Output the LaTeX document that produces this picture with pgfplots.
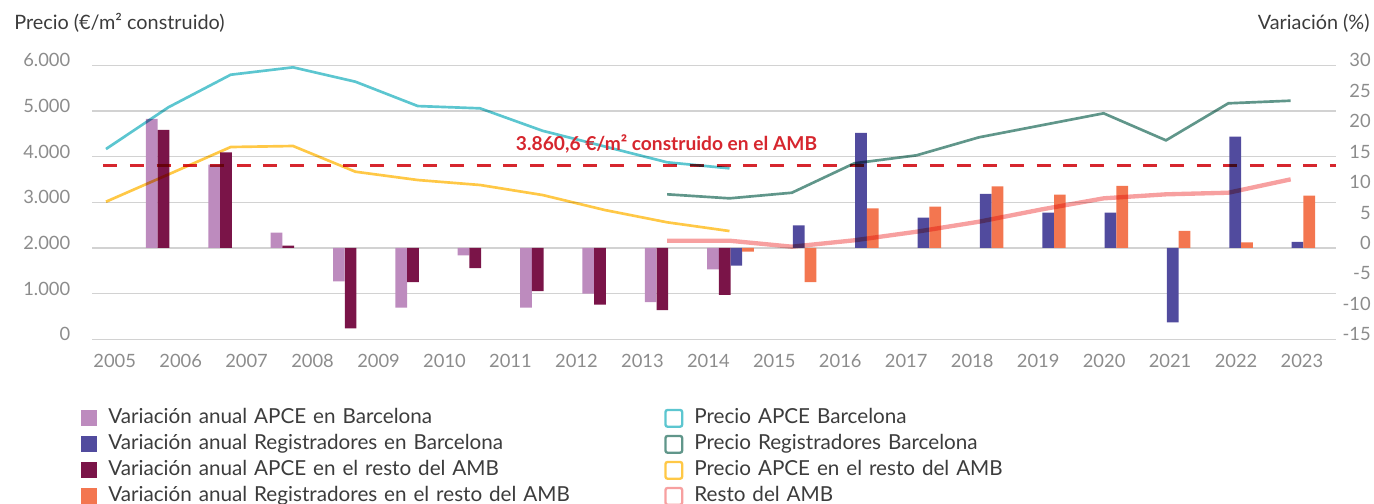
\documentclass[border=0pt]{standalone}
\usepackage{fontspec}
\setmainfont{Lato}
\usepackage{pgfplots}
\pgfplotsset{compat=1.18}

\definecolor{cLila}{HTML}{BD8BBE}
\definecolor{cIndigo}{HTML}{514B9E}
\definecolor{cMaroon}{HTML}{7A1448}
\definecolor{cOrange}{HTML}{F37650}
\definecolor{cCyan}{HTML}{5CC6D0}
\definecolor{cGreen}{HTML}{60968A}
\definecolor{cYellow}{HTML}{FFC846}
\definecolor{cPink}{HTML}{F7A0A0}
\definecolor{cRed}{HTML}{D6262E}
\definecolor{gridgray}{RGB}{210,210,210}
\definecolor{tickgray}{RGB}{140,140,140}
\definecolor{textdark}{RGB}{60,60,60}

\newcommand\tickfont{\fontsize{11}{12}\selectfont}

% shared frame: line points sit at x = 0..19, bars of year k at x = k+1 with shifts
\pgfplotsset{frame/.style={
  at={(55.2pt,-203.58pt)}, anchor=south west,
  width=746.4pt, height=164.4pt, scale only axis,
  xmin=-0.2245, xmax=19.727,
  axis line style={draw=none}, major tick length=0pt,
}}

\begin{document}
\begin{tikzpicture}
\path[use as bounding box] (0pt,0pt) rectangle (824.4pt,-302.4pt);

% variations (%), right axis, bars
\begin{axis}[frame,
  ymin=-15, ymax=30,
  xtick={0.140,1.198,2.255,3.313,4.371,5.429,6.487,7.545,8.603,9.661,10.718,11.776,12.834,13.892,14.950,16.008,17.066,18.124,19.181},
  xticklabels={2005,2006,2007,2008,2009,2010,2011,2012,2013,2014,2015,2016,2017,2018,2019,2020,2021,2022,2023},
  xticklabel style={anchor=base, yshift=-17.2pt, font=\tickfont, text=tickgray},
  ytick={-15,-10,...,30},
  yticklabels={-15,-10,-5,0,5,10,15,20,25,30},
  ytick pos=right, yticklabel pos=right,
  yticklabel style={anchor=east, xshift=21pt, yshift=3pt, inner sep=0pt, font=\tickfont, text=tickgray},
  extra y ticks={-15,-7.5,0,7.5,15,22.5,30}, extra y tick labels={},
  extra y tick style={grid=major, major grid style={gridgray, line width=0.7pt}},
  bar width=0.1877,
]
\addplot[ybar, bar shift=-0.265, fill=cLila, draw=none] coordinates {
 (1,21.2) (2,13.7) (3,2.5) (4,-5.5) (5,-9.8) (6,-1.2) (7,-9.8) (8,-7.5) (9,-8.9) (10,-3.5)};
\addplot[ybar, bar shift=-0.077, fill=cMaroon, draw=none] coordinates {
 (1,19.4) (2,15.7) (3,0.4) (4,-13.2) (5,-5.6) (6,-3.3) (7,-7.1) (8,-9.3) (9,-10.2) (10,-7.7)};
\addplot[ybar, bar shift=0.110, fill=cIndigo, draw=none] coordinates {
 (10,-2.9) (11,3.7) (12,18.9) (13,5.0) (14,8.9) (15,5.8) (16,5.8) (17,-12.2) (18,18.3) (19,1.0)};
\addplot[ybar, bar shift=0.298, fill=cOrange, draw=none] coordinates {
 (10,-0.6) (11,-5.6) (12,6.5) (13,6.8) (14,10.1) (15,8.75) (16,10.2) (17,2.8) (18,0.9) (19,8.6)};
\end{axis}

% prices, left axis, lines
\begin{axis}[frame,
  ymin=0, ymax=6000,
  xtick=\empty,
  ytick={0,1000,...,6000},
  yticklabels={0,1.000,2.000,3.000,4.000,5.000,6.000},
  yticklabel style={anchor=east, xshift=-12.9pt, yshift=3pt, inner sep=0pt, font=\tickfont, text=tickgray},
  legend columns=2,
  legend cell align=left,
  legend style={at={(-0.00884,-0.2398)}, anchor=north west, draw=none, fill=none,
    inner sep=0pt, row sep=0pt, font=\fontsize{12.4}{14}\selectfont, text=textdark,
    nodes={text width=327pt, align=left, inner xsep=6.6pt, inner ysep=2.2pt,
           text height=8.6pt, text depth=2.6pt}},
]
\addlegendimage{fill=cLila, draw=none, legend image code/.code={\fill (0pt,-4.8pt) rectangle (9.6pt,4.8pt);}}
\addlegendimage{draw=cCyan, line width=1.4pt, legend image code/.code={\draw[rounded corners=1.2pt] (0.7pt,-5pt) rectangle (10.7pt,5pt);}}
\addlegendimage{fill=cIndigo, draw=none, legend image code/.code={\fill (0pt,-4.8pt) rectangle (9.6pt,4.8pt);}}
\addlegendimage{draw=cGreen, line width=1.4pt, legend image code/.code={\draw[rounded corners=1.2pt] (0.7pt,-5pt) rectangle (10.7pt,5pt);}}
\addlegendimage{fill=cMaroon, draw=none, legend image code/.code={\fill (0pt,-4.8pt) rectangle (9.6pt,4.8pt);}}
\addlegendimage{draw=cYellow, line width=1.4pt, legend image code/.code={\draw[rounded corners=1.2pt] (0.7pt,-5pt) rectangle (10.7pt,5pt);}}
\addlegendimage{fill=cOrange, draw=none, legend image code/.code={\fill (0pt,-4.8pt) rectangle (9.6pt,4.8pt);}}
\addlegendimage{draw=cPink, line width=1.4pt, legend image code/.code={\draw[rounded corners=1.2pt] (0.7pt,-5pt) rectangle (10.7pt,5pt);}}
\legend{Variación anual APCE en Barcelona, Precio APCE Barcelona,
        Variación anual Registradores en Barcelona, Precio Registradores Barcelona,
        Variación anual APCE en el resto del AMB, Precio APCE en el resto del AMB,
        Variación anual Registradores en el resto del AMB, Resto del AMB}

\addplot[forget plot, cRed, line width=1.8pt, dash pattern=on 8.4pt off 7.6pt, blend mode=multiply]
 coordinates {(-0.043,3817) (19.727,3817)};
\addplot[forget plot, cPink, line width=2.6pt, blend mode=multiply] coordinates {
 (9,2159) (10,2159) (11,2028) (12,2168) (13,2356) (14,2575) (15,2843) (16,3087) (17,3175) (18,3210) (19,3503)};
\addplot[forget plot, cCyan, line width=1.6pt, blend mode=multiply] coordinates {
 (0,4167) (1,5080) (2,5794) (3,5956) (4,5641) (5,5108) (6,5058) (7,4567) (8,4222) (9,3876) (10,3744)};
\addplot[forget plot, cYellow, line width=1.6pt, blend mode=multiply] coordinates {
 (0,3013) (1,3610) (2,4211) (3,4233) (4,3670) (5,3488) (6,3379) (7,3160) (8,2831) (9,2562) (10,2371)};
\addplot[forget plot, cGreen, line width=1.6pt, blend mode=multiply] coordinates {
 (9,3175) (10,3087) (11,3210) (12,3854) (13,4029) (14,4423) (15,4686) (16,4949) (17,4357) (18,5168) (19,5225)};

\node[anchor=base, text=cRed, font=\fontsize{11.5}{13}\selectfont\bfseries]
 at (axis cs:8.99,4145) {3.860,6 €/m² construido en el AMB};
\end{axis}

\node[anchor=west, inner sep=0pt, text=textdark, font=\fontsize{11.9}{14}\selectfont]
 at (8.4pt,-13.8pt) {Precio (€/m² construido)};
\node[anchor=east, inner sep=0pt, text=textdark, font=\fontsize{11.9}{14}\selectfont]
 at (822pt,-13.8pt) {Variación (\%)};
\end{tikzpicture}
\end{document}
